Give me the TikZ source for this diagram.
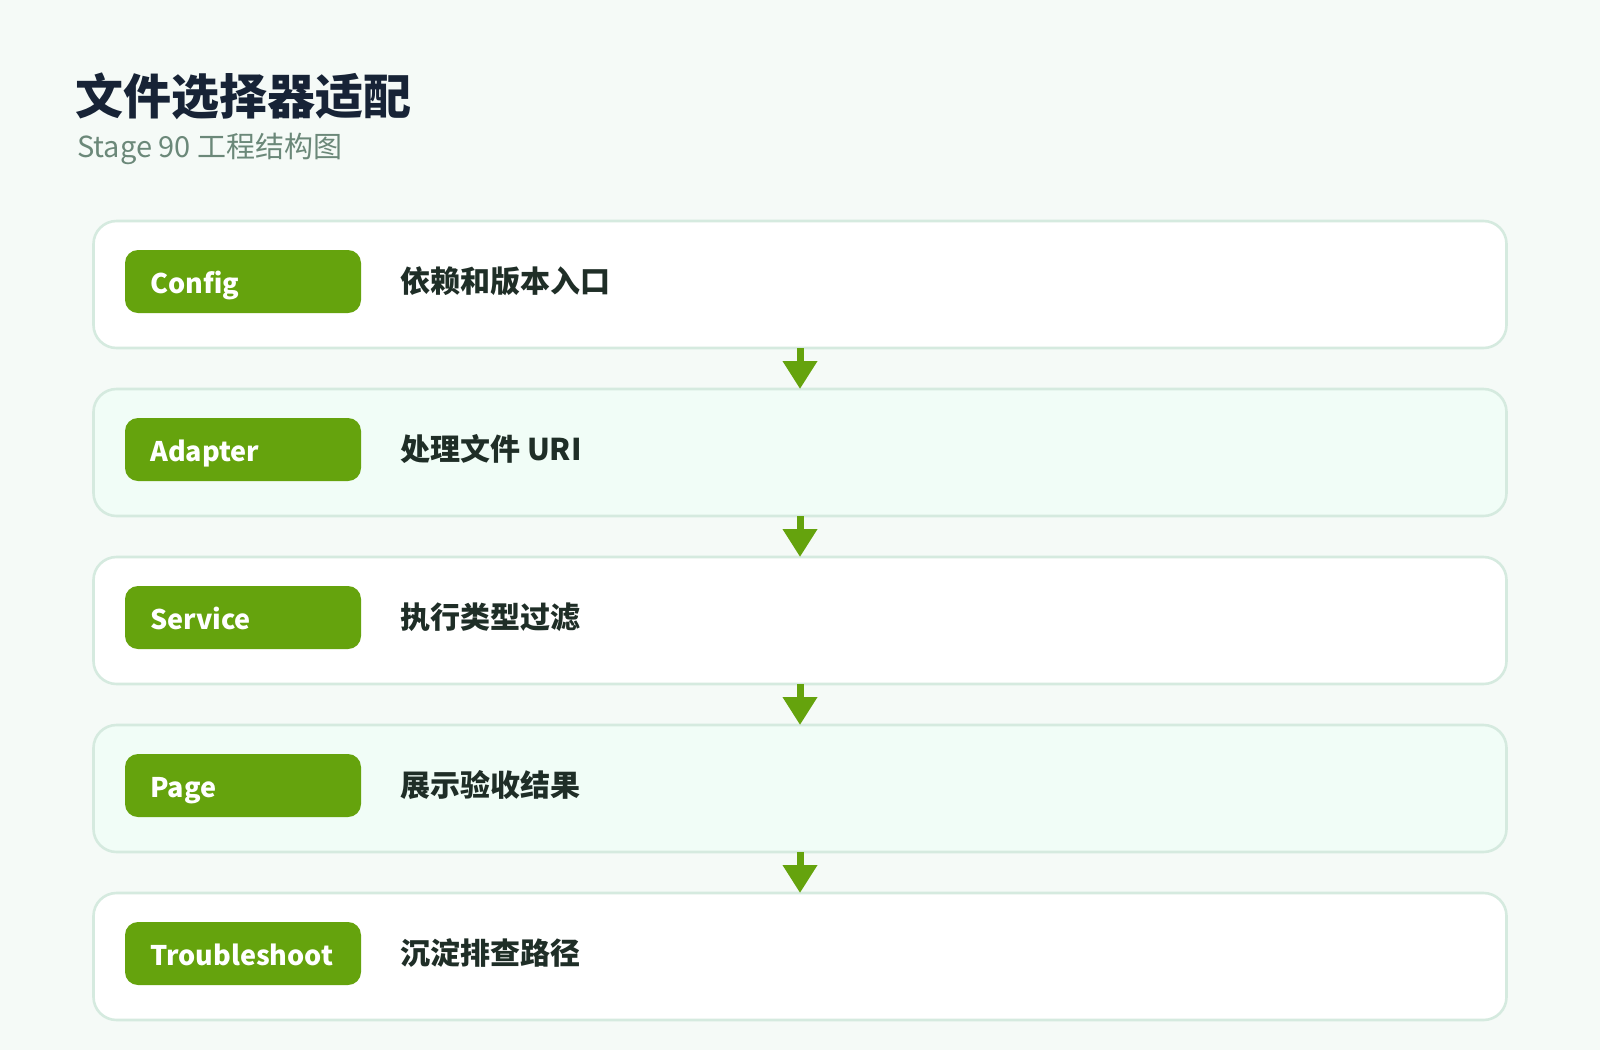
\documentclass[tikz,border=0pt]{standalone}
\usepackage{fontspec}
\setmainfont{Noto Sans CJK SC}
\usetikzlibrary{arrows.meta}
\definecolor{bgc}{HTML}{F5FAF7}
\definecolor{altc}{HTML}{F1FDF7}
\definecolor{edgec}{HTML}{D5EADF}
\definecolor{pillc}{HTML}{65A30D}
\definecolor{titlec}{HTML}{172336}
\definecolor{subc}{HTML}{6B8879}
\definecolor{descc}{HTML}{1F2E27}
\tikzset{
  panel/.style={rectangle, draw=edgec, line width=2.6pt, rounded corners=23pt,
    minimum width=1413pt, minimum height=127pt, inner sep=0pt, outer sep=0pt},
  pill/.style={rectangle, fill=pillc, rounded corners=13pt,
    minimum width=236pt, minimum height=63pt, inner sep=0pt, outer sep=0pt},
  labtext/.style={anchor=base west, inner sep=0pt, text=white,
    font=\bfseries\fontsize{27}{33}\selectfont},
  desctext/.style={anchor=base west, inner sep=0pt, text=descc,
    font=\bfseries\fontsize{30}{36}\selectfont},
  flow/.style={draw=pillc, line width=7pt,
    -{Triangle[width=33pt,length=28pt]}, color=pillc}
}
\begin{document}
\begin{tikzpicture}[x=1pt,y=-1pt]
\fill[bgc] (0,0) rectangle (1600,1050);
\useasboundingbox (0,0) rectangle (1600,1050);
\node[anchor=base west, inner sep=0pt, text=titlec,
  font=\bfseries\fontsize{48}{58}\selectfont] (title) at (75,114) {文件选择器适配};
\node[anchor=base west, inner sep=0pt, text=subc,
  font=\fontsize{29}{35}\selectfont] (subtitle) at (77,157) {Stage 90 工程结构图};
\foreach \i/\lab/\desc/\fc in {0/Config/依赖和版本入口/white,
    1/Adapter/处理文件 URI/altc,
    2/Service/执行类型过滤/white,
    3/Page/展示验收结果/altc,
    4/Troubleshoot/沉淀排查路径/white}{
  \pgfmathsetmacro\yc{284.5+168*\i}
  \node[panel, fill=\fc] (box\i) at (800,\yc) {};
  \node[pill, anchor=west] (pill\i) at (125,\yc-3) {};
  \node[labtext] (lab\i) at (150,\yc+8.5) {\lab};
  \node[desctext] (desc\i) at (400,\yc+8) {\desc};
}
\foreach \i/\j in {0/1,1/2,2/3,3/4}{
  \draw[flow] (box\i.south) -- (box\j.north);
}
\end{tikzpicture}
\end{document}
